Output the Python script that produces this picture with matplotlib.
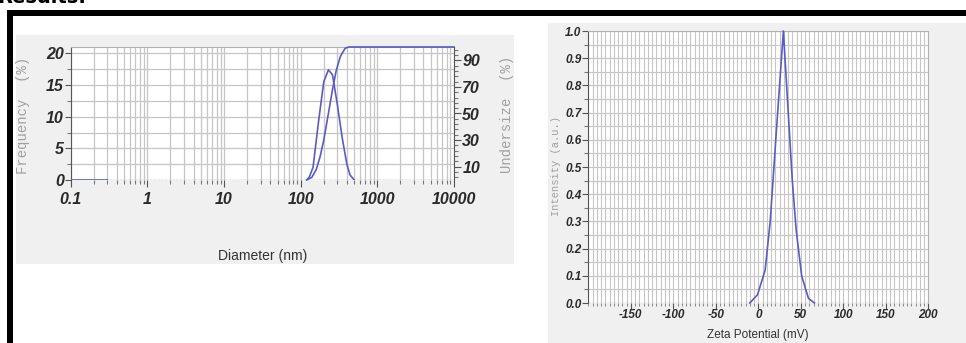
import numpy as np
import matplotlib
matplotlib.use('Agg')
import matplotlib.pyplot as plt
from matplotlib.patches import Rectangle
from matplotlib.ticker import FixedLocator, LogLocator, NullFormatter

W, H = 966, 343

# particle size distribution (left)
diam_nm = [0.1, 0.3, 1, 120, 130, 145, 170, 200, 230, 260, 300, 350, 400, 440, 500]
freq_pct = [0, 0, np.nan, 0, 0.5, 2, 9, 15.5, 17.4, 16.6, 12, 6.5, 2.5, 0.8, 0]
cum_diam_nm = [120, 140, 160, 180, 200, 230, 260, 290, 330, 380, 420, 10000]
undersize_pct = [0, 2, 8, 18, 30, 50, 68, 82, 93, 99, 100, 100]
diam_ticks = [0.1, 1, 10, 100, 1000, 10000]
diam_labels = ['0.1', '1', '10', '100', '1000', '10000']
freq_ticks = [0, 5, 10, 15, 20]
under_ticks = [10, 30, 50, 70, 90]

# zeta potential (right)
zeta_mv = [-10, -1, 8, 14, 21, 29.5, 40, 44.5, 51, 59, 66]
intensity = [0, 0.03, 0.12, 0.3, 0.62, 1.0, 0.45, 0.27, 0.10, 0.017, 0]
zeta_ticks = [-150, -100, -50, 0, 50, 100, 150, 200]
int_ticks = [0.0, 0.1, 0.2, 0.3, 0.4, 0.5, 0.6, 0.7, 0.8, 0.9, 1.0]

LINE = '#5b5bc4'
GRID = '#c6c6c6'
PANEL = '#f0f0f0'
TICKFONT = dict(family=['Liberation Sans Narrow', 'Liberation Sans'], weight='bold', style='italic')
MONO = dict(family=['Liberation Mono', 'DejaVu Sans Mono'], color='#a0a0a0')


def box(x0, y0, x1, y1):
    # pixel box (top-left origin) -> figure coords
    return [x0 / W, 1 - y1 / H, (x1 - x0) / W, (y1 - y0) / H]


fig = plt.figure(figsize=(W / 100, H / 100), dpi=100)
fig.patch.set_facecolor('white')

for (x0, y0, x1, y1), c in [((16, 35, 514, 264), PANEL), ((548, 23, 966, 343), PANEL),
                            ((7, 10, 966, 16), 'black'), ((7, 10, 13, 343), 'black')]:
    b = box(x0, y0, x1, y1)
    fig.patches.append(Rectangle((b[0], b[1]), b[2], b[3], transform=fig.transFigure,
                                 facecolor=c, edgecolor='none', zorder=-5))

fig.text(-3 / W, 1 - 3 / H, 'Results:', fontsize=14, fontweight='bold', va='baseline')

# ---- left: size distribution ----
ax1 = fig.add_axes(box(70.7, 47, 454, 180))
ax1.set_facecolor('white')
ax1.set_xscale('log')
ax1.set_xlim(0.1, 10000)
ax1.set_ylim(0, 21)
ax1.xaxis.set_major_locator(FixedLocator(diam_ticks))
ax1.xaxis.set_minor_locator(LogLocator(base=10, subs=range(2, 10), numticks=50))
ax1.xaxis.set_minor_formatter(NullFormatter())
ax1.set_xticklabels(diam_labels, fontsize=11.5, color='#2a2a2a', **TICKFONT)
ax1.yaxis.set_major_locator(FixedLocator(freq_ticks))
ax1.yaxis.set_minor_locator(FixedLocator(np.arange(2.5, 21, 5)))
ax1.set_yticklabels([str(t) for t in freq_ticks], fontsize=11.5, color='#2a2a2a', **TICKFONT)
ax1.grid(True, which='both', axis='x', color=GRID, lw=0.9)
ax1.grid(True, which='both', axis='y', color=GRID, lw=0.9)
ax1.tick_params(axis='x', which='major', length=5, width=0.8, color='#555555', pad=4)
ax1.tick_params(axis='x', which='minor', length=3, width=0.8, color='#777777')
ax1.tick_params(axis='y', which='major', length=4, width=0.8, color='#555555', pad=1)
ax1.tick_params(axis='y', which='minor', length=3, width=0.8, color='#777777')
for s in ['bottom', 'right']:
    ax1.spines[s].set_visible(False)
ax1.spines['top'].set_color('#b0b0b0')
ax1.spines['left'].set_color('#555555')
ax1.axhline(0, color='#888888', lw=0.9, ls=(0, (1.5, 1.5)), zorder=1)
ax1.plot(diam_nm, freq_pct, color=LINE, lw=1.2, zorder=3)

ax2 = ax1.twinx()
ax2.set_ylim(0, 100)
ax2.yaxis.set_major_locator(FixedLocator(under_ticks))
ax2.yaxis.set_minor_locator(FixedLocator(np.arange(2, 100, 4)))
ax2.set_yticklabels([str(t) for t in under_ticks], fontsize=11.5, color='#2a2a2a', **TICKFONT)
ax2.tick_params(axis='y', which='major', length=5, width=0.8, color='#555555', pad=1)
ax2.tick_params(axis='y', which='minor', length=3, width=0.8, color='#777777')
for s in ['top', 'bottom', 'left']:
    ax2.spines[s].set_visible(False)
ax2.spines['right'].set_color('#555555')
ax2.plot(cum_diam_nm, undersize_pct, color=LINE, lw=1.2, zorder=3, clip_on=False)

fig.text(22.7 / W, 1 - 115 / H, 'Frequency  (%)', rotation=90, fontsize=10,
         ha='center', va='center', **MONO)
fig.text(507 / W, 1 - 114.5 / H, 'Undersize  (%)', rotation=90, fontsize=10,
         ha='center', va='center', **MONO)
fig.text(263 / W, 1 - 256 / H, 'Diameter (nm)', fontsize=10, color='#333333',
         ha='center', va='center', family=['Liberation Sans Narrow', 'Liberation Sans'])

# ---- right: zeta potential ----
ax3 = fig.add_axes(box(588.3, 31, 928.3, 303))
ax3.set_facecolor('white')
ax3.set_xlim(-200, 200)
ax3.set_ylim(0, 1.0)
ax3.xaxis.set_major_locator(FixedLocator(zeta_ticks))
ax3.xaxis.set_minor_locator(FixedLocator(np.arange(-200, 201, 5)))
ax3.set_xticklabels([str(t) for t in zeta_ticks], fontsize=8.5, color='#2a2a2a',
                    family=['Liberation Sans'], weight='bold', style='italic')
ax3.yaxis.set_major_locator(FixedLocator(int_ticks))
ax3.yaxis.set_minor_locator(FixedLocator(np.arange(0.05, 1.0, 0.1)))
ax3.set_yticklabels(['%.1f' % t for t in int_ticks], fontsize=8.5, color='#2a2a2a',
                    family=['Liberation Sans'], weight='bold', style='italic')
ax3.grid(True, which='both', color=GRID, lw=0.8)
ax3.tick_params(axis='x', which='major', length=4, width=0.8, color='#555555', pad=0.5)
ax3.tick_params(axis='x', which='minor', length=2.5, width=0.7, color='#888888')
ax3.tick_params(axis='y', which='major', length=4, width=0.8, color='#555555', pad=1)
ax3.tick_params(axis='y', which='minor', length=3, width=0.8, color='#777777')
ax3.spines['bottom'].set_visible(False)
for s in ['top', 'right']:
    ax3.spines[s].set_color('#b0b0b0')
ax3.spines['left'].set_color('#555555')
ax3.axhline(0, color='#888888', lw=0.9, ls=(0, (1.5, 1.5)), zorder=1)
ax3.plot(zeta_mv, intensity, color=LINE, lw=1.2, zorder=3, clip_on=False)

fig.text(555.7 / W, 1 - 166.5 / H, 'Intensity (a.u.)', rotation=90, fontsize=7.5,
         ha='center', va='center', **MONO)
fig.text(758 / W, 1 - 335 / H, 'Zeta Potential (mV)', fontsize=8.5, color='#333333',
         ha='center', va='center', family=['Liberation Sans'])

fig.savefig('out.png', dpi=100, facecolor='white')
